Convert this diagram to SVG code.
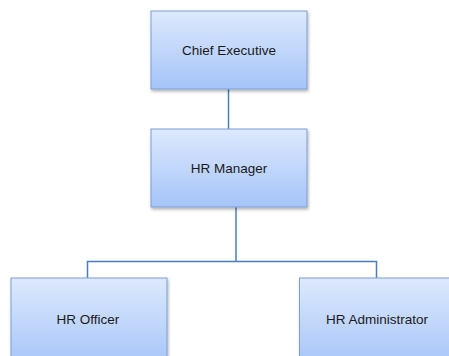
<svg xmlns="http://www.w3.org/2000/svg" width="449" height="356" viewBox="0 0 449 356">
<defs>
<linearGradient id="g" x1="0" y1="0" x2="0" y2="1">
<stop offset="0" stop-color="#dde9fd"/>
<stop offset="1" stop-color="#a5c4f9"/>
</linearGradient>
<filter id="sh" x="-10%" y="-10%" width="120%" height="130%">
<feDropShadow dx="1" dy="2" stdDeviation="1.5" flood-color="#000" flood-opacity="0.3"/>
</filter>
<style>
.box{fill:url(#g);stroke:#7b9fd3;stroke-width:1;filter:url(#sh)}
.lbl{font-family:"Liberation Sans",Arial,sans-serif;font-size:13.5px;fill:#1a1a1a;text-anchor:middle;dominant-baseline:central}
.con{fill:none;stroke:#4a7ebb;stroke-width:1.5}
</style>
</defs>
<rect width="449" height="356" fill="#fff"/>
<g id="connectors">
<path class="con" d="M228.5 89 V129"/>
<path class="con" d="M236 207 V261.5 M87.5 278 V261.5 H376.5 V278"/>
</g>
<g id="chief-executive">
<rect class="box" x="151" y="11" width="156" height="78"/>
<text class="lbl" x="229" y="50">Chief Executive</text>
</g>
<g id="hr-manager">
<rect class="box" x="151" y="129" width="156" height="78"/>
<text class="lbl" x="229" y="168">HR Manager</text>
</g>
<g id="hr-officer">
<rect class="box" x="11" y="278" width="156" height="90"/>
<text class="lbl" x="88" y="319">HR Officer</text>
</g>
<g id="hr-administrator">
<rect class="box" x="299.5" y="278" width="156" height="90"/>
<text class="lbl" x="377" y="319">HR Administrator</text>
</g>
</svg>
